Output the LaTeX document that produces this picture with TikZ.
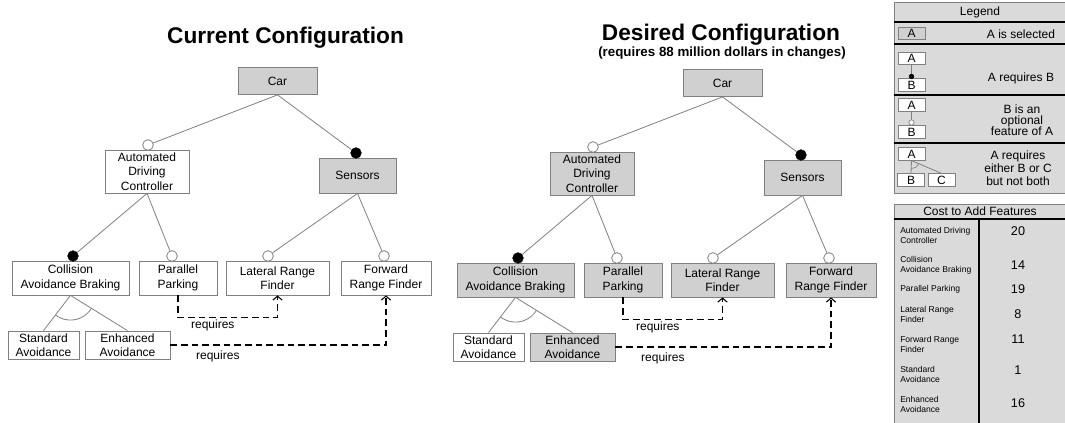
\documentclass[tikz,border=0pt]{standalone}
\usepackage{fontspec}
\setmainfont{Liberation Sans}
\usetikzlibrary{arrows.meta,angles}

\definecolor{selgray}{HTML}{D0D0D0}
\definecolor{panelgray}{HTML}{DADADA}
\definecolor{edgegray}{HTML}{808080}

\tikzset{
  feat/.style={draw=edgegray, line width=0.6pt, fill=white, align=center, inner sep=0pt, font=\fontsize{9}{10.9}\selectfont},
  sel/.style={feat, fill=selgray},
  optdot/.style={circle, draw=edgegray, line width=0.6pt, fill=white, inner sep=0pt, minimum size=8pt},
  manddot/.style={circle, draw=black, fill=black, inner sep=0pt, minimum size=8pt},
  treeline/.style={draw=edgegray, line width=0.6pt},
  reqline/.style={line width=0.8pt, dash pattern=on 5pt off 3pt, -{Straight Barb[length=3pt,width=7pt]}},
  reqlbl/.style={font=\fontsize{9}{10}\selectfont, inner sep=1.5pt},
  heading/.style={font=\bfseries\fontsize{17}{20}\selectfont},
  subheading/.style={font=\bfseries\fontsize{10}{12}\selectfont},
  lgbox/.style={draw=edgegray, line width=0.5pt, fill=white, inner sep=0pt, minimum width=20.25pt, minimum height=9.4pt, font=\fontsize{9}{9}\selectfont},
  lgtext/.style={align=center, inner sep=0pt, font=\fontsize{9}{8.4}\selectfont},
  thicksep/.style={line width=1.6pt},
  costlabel/.style={anchor=west, align=left, inner sep=0pt, font=\fontsize{6.4}{7.5}\selectfont},
  costval/.style={inner sep=0pt, font=\fontsize{9.5}{10}\selectfont},
}

\begin{document}
\begin{tikzpicture}[x=0.75pt,y=-0.75pt]
\useasboundingbox (0,0) rectangle (1065,423);

% current configuration
\node[heading, anchor=base] (cur-title) at (285.5,44) {Current Configuration};
\node[sel, minimum width=59.25pt, minimum height=20.25pt] (c-car) at (277.5,81) {Car};
\node[feat, minimum width=63pt, minimum height=32.25pt] (c-adc) at (147,171.5) {Automated\\Driving\\Controller};
\node[sel, minimum width=57.75pt, minimum height=26.25pt] (c-sens) at (357.5,175.5) {Sensors};
\node[feat, minimum width=87.75pt, minimum height=25.5pt] (c-cab) at (70.5,278) {Collision\\Avoidance Braking};
\node[feat, minimum width=58.5pt, minimum height=25.5pt] (c-pp) at (178,278) {Parallel\\Parking};
\node[feat, minimum width=77.25pt, minimum height=25.5pt] (c-lrf) at (277.5,278) {Lateral Range\\Finder};
\node[feat, minimum width=67.5pt, minimum height=25.5pt] (c-frf) at (386,278) {Forward\\Range Finder};
\node[feat, minimum width=53.25pt, minimum height=21pt] (c-sa) at (43.5,345) {Standard\\Avoidance};
\node[feat, minimum width=63.75pt, minimum height=21pt] (c-ea) at (127.5,345) {Enhanced\\Avoidance};

\node[optdot] (c-adc-o) at (148,145) {};
\node[manddot] (c-sens-m) at (356,153) {};
\node[manddot] (c-cab-m) at (73,256) {};
\node[optdot] (c-pp-o) at (172,256) {};
\node[optdot] (c-lrf-o) at (268,256) {};
\node[optdot] (c-frf-o) at (384,256) {};

\draw[treeline] (c-car.south) -- (c-adc-o);
\draw[treeline] (c-car.south) -- (c-sens-m);
\draw[treeline] (c-adc.south) -- (c-cab-m);
\draw[treeline] (c-adc.south) -- (c-pp-o);
\draw[treeline] (c-sens.south) -- (c-lrf-o);
\draw[treeline] (c-sens.south) -- (c-frf-o);
\coordinate (c-alt) at (c-cab.south);
\coordinate (c-sa-t) at (c-sa.north);
\coordinate (c-ea-t) at (c-ea.north);
\draw[treeline] (c-alt) -- (c-sa-t);
\draw[treeline] (c-alt) -- (c-ea-t);
\pic[draw=edgegray, line width=0.6pt, angle radius=18.5pt] {angle = c-sa-t--c-alt--c-ea-t};

\draw[reqline] (c-pp.south) -- ++(0,22) -| node[pos=0.175, below, reqlbl] {requires} (c-lrf.south);
\draw[reqline] (c-ea.east) -| node[pos=0.11, below=2.5pt, reqlbl] {requires} (c-frf.south);

% desired configuration
\node[heading, anchor=base] (des-title) at (721,41) {Desired Configuration};
\node[subheading, anchor=base] (des-sub) at (722,56.5) {(requires 88 million dollars in changes)};
\node[sel, minimum width=59.25pt, minimum height=20.25pt] (d-car) at (722.5,83) {Car};
\node[sel, minimum width=63pt, minimum height=32.25pt] (d-adc) at (592,173.5) {Automated\\Driving\\Controller};
\node[sel, minimum width=57.75pt, minimum height=26.25pt] (d-sens) at (802.5,177.5) {Sensors};
\node[sel, minimum width=87.75pt, minimum height=25.5pt] (d-cab) at (515.5,280) {Collision\\Avoidance Braking};
\node[sel, minimum width=58.5pt, minimum height=25.5pt] (d-pp) at (623,280) {Parallel\\Parking};
\node[sel, minimum width=77.25pt, minimum height=25.5pt] (d-lrf) at (722.5,280) {Lateral Range\\Finder};
\node[sel, minimum width=67.5pt, minimum height=25.5pt] (d-frf) at (831,280) {Forward\\Range Finder};
\node[feat, minimum width=53.25pt, minimum height=21pt] (d-sa) at (488.5,347) {Standard\\Avoidance};
\node[sel, minimum width=63.75pt, minimum height=21pt] (d-ea) at (572.5,347) {Enhanced\\Avoidance};

\node[optdot] (d-adc-o) at (593,147) {};
\node[manddot] (d-sens-m) at (801,155) {};
\node[manddot] (d-cab-m) at (518,258) {};
\node[optdot] (d-pp-o) at (617,258) {};
\node[optdot] (d-lrf-o) at (713,258) {};
\node[optdot] (d-frf-o) at (829,258) {};

\draw[treeline] (d-car.south) -- (d-adc-o);
\draw[treeline] (d-car.south) -- (d-sens-m);
\draw[treeline] (d-adc.south) -- (d-cab-m);
\draw[treeline] (d-adc.south) -- (d-pp-o);
\draw[treeline] (d-sens.south) -- (d-lrf-o);
\draw[treeline] (d-sens.south) -- (d-frf-o);
\coordinate (d-alt) at (d-cab.south);
\coordinate (d-sa-t) at (d-sa.north);
\coordinate (d-ea-t) at (d-ea.north);
\draw[treeline] (d-alt) -- (d-sa-t);
\draw[treeline] (d-alt) -- (d-ea-t);
\pic[draw=edgegray, line width=0.6pt, angle radius=18.5pt] {angle = d-sa-t--d-alt--d-ea-t};

\draw[reqline] (d-pp.south) -- ++(0,22) -| node[pos=0.175, below, reqlbl] {requires} (d-lrf.south);
\draw[reqline] (d-ea.east) -| node[pos=0.11, below=2.5pt, reqlbl] {requires} (d-frf.south);

% legend
\draw[draw=edgegray, fill=panelgray] (894,2) rectangle (1070,193);
\node[lgtext] (lg-head) at (980,12) {Legend};
\draw[thicksep] (894,22) -- (1070,22);
\draw[thicksep] (894,44) -- (1070,44);
\draw[thicksep] (894,95) -- (1070,95);
\draw[thicksep] (894,143) -- (1070,143);

\node[lgbox, fill=selgray] (lg1-a) at (911.5,33.5) {A};
\node[lgtext] (lg1-txt) at (1021,34) {A is selected};

\node[lgbox] (lg2-a) at (911.5,58.5) {A};
\node[lgbox] (lg2-b) at (911.5,85) {B};
\draw[treeline] (lg2-a.south) -- (lg2-b.north);
\node[manddot, minimum size=3.5pt] (lg2-dot) at (911.5,76.5) {};
\node[lgtext] (lg2-txt) at (1021,78) {A requires B};

\node[lgbox] (lg3-a) at (911.5,105) {A};
\node[lgbox] (lg3-b) at (911.5,132) {B};
\draw[treeline] (lg3-a.south) -- (lg3-b.north);
\node[optdot, minimum size=4pt, line width=0.5pt] (lg3-dot) at (911.5,122.5) {};
\node[lgtext] (lg3-txt) at (1022,120) {B is an\\optional\\feature of A};

\node[lgbox] (lg4-a) at (911.5,154) {A};
\node[lgbox] (lg4-b) at (911,180) {B};
\node[lgbox] (lg4-c) at (941.5,180) {C};
\coordinate (lg4-at) at (lg4-a.south);
\coordinate (lg4-bt) at (lg4-b.north);
\coordinate (lg4-ct) at (lg4-c.north);
\draw[treeline] (lg4-at) -- (lg4-bt);
\draw[treeline] (lg4-at) -- (lg4-ct);
\pic[draw=edgegray, line width=0.5pt, angle radius=6pt] {angle = lg4-bt--lg4-at--lg4-ct};
\node[lgtext, font=\fontsize{9}{9.75}\selectfont] (lg4-txt) at (1018,168) {A requires\\either B or C\\but not both};

% cost table
\draw[draw=edgegray, fill=panelgray] (894,204) rectangle (1070,430);
\node[lgtext] (cost-head) at (980,211.5) {Cost to Add Features};
\draw[thicksep] (894,219) -- (1070,219);
\draw[thicksep] (979,219) -- (979,430);

\node[costlabel] (cost-adc) at (900,235) {Automated Driving\\Controller};
\node[costlabel] (cost-cab) at (900,265) {Collision\\Avoidance Braking};
\node[costlabel] (cost-pp) at (900,289) {Parallel Parking};
\node[costlabel] (cost-lrf) at (900,314) {Lateral Range\\Finder};
\node[costlabel] (cost-frf) at (900,344) {Forward Range\\Finder};
\node[costlabel] (cost-sa) at (900,374) {Standard\\Avoidance};
\node[costlabel] (cost-ea) at (900,404) {Enhanced\\Avoidance};

\node[costval] (val-adc) at (1018,231) {20};
\node[costval] (val-cab) at (1018,265) {14};
\node[costval] (val-pp) at (1018,289) {19};
\node[costval] (val-lrf) at (1018,314) {8};
\node[costval] (val-frf) at (1018,339) {11};
\node[costval] (val-sa) at (1018,370) {1};
\node[costval] (val-ea) at (1018,403) {16};

\end{tikzpicture}
\end{document}
